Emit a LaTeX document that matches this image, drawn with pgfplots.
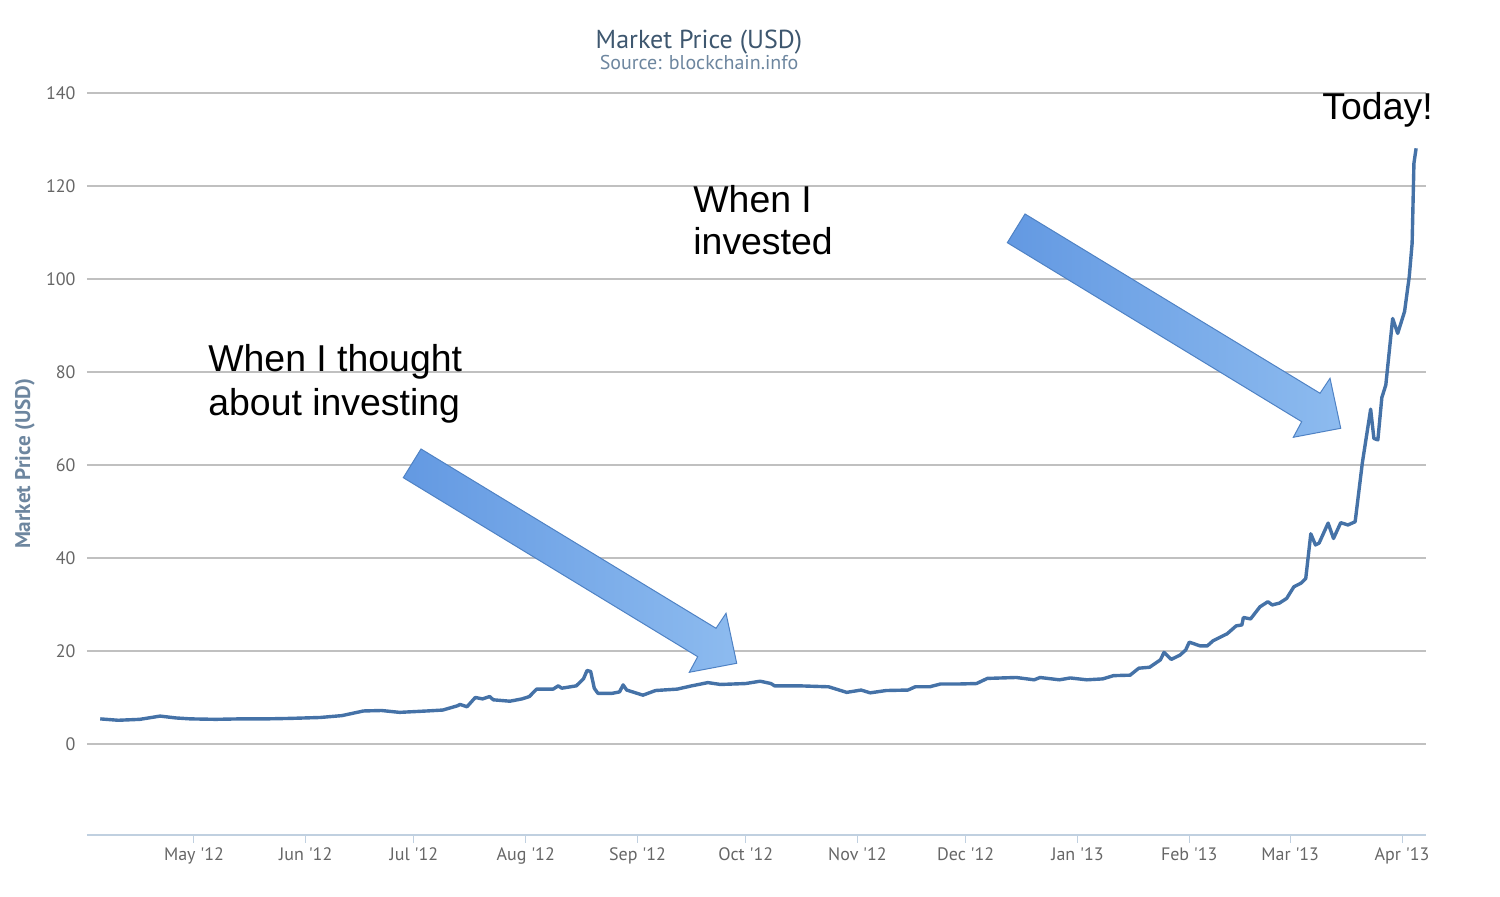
\documentclass[border=0pt]{standalone}
\usepackage{pgfplots}
\pgfplotsset{compat=1.18}
\usepackage{fontspec}
\setmainfont{Liberation Sans}
\newfontfamily\hc{PT Sans}
\newfontfamily\arial{Liberation Sans}

\definecolor{series}{HTML}{4572A7}
\definecolor{hctitle}{HTML}{3E576F}
\definecolor{hcsub}{HTML}{6D869F}
\definecolor{hclabel}{HTML}{666666}
\definecolor{hcgrid}{HTML}{C0C0C0}
\definecolor{hcaxis}{HTML}{C0D0E0}
\definecolor{arrowA}{HTML}{6399E2}
\definecolor{arrowB}{HTML}{8DBBEF}
\definecolor{arrowEdge}{HTML}{4F82C4}

% reference pixel -> axis coordinates (x: days since 1 May 2012, y: USD)
\newcommand{\pp}[2]{(axis cs:{(#1-194)/3.606},{(744-#2)/4.65})}

\begin{document}
\begin{tikzpicture}
\path[use as bounding box] (-43.5pt,-31pt) rectangle (706.5pt,417.5pt);
\begin{axis}[at={(0,0)},anchor=south west,
  scale only axis,width=669.5pt,height=371pt,
  xmin=-29.67,xmax=341.65,ymin=-19.57,ymax=140,
  clip=false,
  axis x line*=bottom,axis y line*=left,
  x axis line style={draw=hcaxis,line width=1pt},
  y axis line style={draw=none},
  xtick={0,31,61,92,123,153,184,214,245,276,304,335},
  xticklabels={May '12,Jun '12,Jul '12,Aug '12,Sep '12,Oct '12,Nov '12,Dec '12,Jan '13,Feb '13,Mar '13,Apr '13},
  ytick={0,20,40,60,80,100,120,140},
  tick align=outside,major tick length=4pt,
  xtick style={draw=hcaxis,line width=0.5pt},
  ytick style={draw=none},
  ymajorgrids,grid style={draw=hcgrid,line width=0.6pt},
  /pgf/number format/assume math mode=true,
  xticklabel style={font=\hc\fontsize{9}{10.8}\selectfont,text=hclabel,yshift=1.3pt},
  yticklabel style={font=\hc\fontsize{9}{10.8}\selectfont,text=hclabel,xshift=1.8pt},
  title={Market Price (USD)},
  title style={at={(rel axis cs:0.457,1.0606)},anchor=base,yshift=-6pt,
    font=\hc\fontsize{13}{15}\selectfont,text=hctitle,inner sep=0pt},
  ylabel={Market Price (USD)},
  every axis y label/.style={at={(rel axis cs:-0.0463,0.5)},rotate=90,anchor=center,
    font=\hc\bfseries\fontsize{10.6}{12}\selectfont,text=hcsub},
]
\addplot[series,line width=1.7pt,line join=round,mark=none] coordinates {
(-26,5.4) (-21,5.1) (-15,5.3) (-9.4,6.0) (-5,5.6) (-1,5.4) (6,5.3) (12.8,5.4)
(20,5.4) (26.6,5.5) (35,5.7) (41,6.1) (47,7.1) (52,7.2) (57,6.8) (64.6,7.1)
(69,7.3) (73,8.2) (73.8,8.5) (75.7,8.0) (78,10.0) (80,9.7) (82,10.2) (83,9.5)
(87.6,9.2) (91,9.7) (93,10.2) (95,11.8) (99.6,11.8) (101,12.5) (102,12.0)
(106,12.5) (108,14.0) (109,15.8) (110,15.6) (111,12.0) (112,10.9) (116,10.9)
(118,11.2) (119,12.7) (120,11.6) (124.5,10.5) (128,11.5) (134,11.8) (138,12.5)
(142.5,13.2) (146,12.8) (153,13.0) (157,13.5) (160,13.0) (161,12.5) (168,12.5)
(176,12.3) (181,11.1) (185,11.6) (187.5,11.0) (192,11.5) (198,11.6) (200,12.3)
(204,12.3) (207,12.9) (212,12.9) (217,13.0) (220,14.1) (228,14.3) (233,13.8)
(234.6,14.3) (240,13.8) (243,14.2) (247.6,13.8) (252,14.0) (255,14.7)
(259.6,14.8) (262,16.3) (265,16.5) (268,18.1) (269,19.7) (271,18.2) (273.4,19.1)
(275,20.2) (276,21.9) (279,21.1) (281,21.1) (282.6,22.2) (286.5,23.7) (289,25.4)
(290.6,25.6) (291,27.2) (293,26.9) (295.6,29.5) (297.8,30.6) (299,29.9)
(301,30.3) (303,31.3) (305,33.8) (307,34.6) (308.3,35.6) (309.7,45.2) (311,42.8)
(312,43.2) (314.5,47.5) (316,44.2) (318,47.6) (320,47.1) (322,47.8) (324,60.5)
(326.3,72.0) (327.2,65.7) (328.3,65.4) (329.4,74.5) (330.5,77.2) (332.4,91.5)
(333.8,88.3) (335.7,93.0) (337,100.5) (337.8,107.7) (338.3,124.9) (338.9,128.1)
};
% subtitle
\path \pp{699}{70} node[anchor=base,inner sep=0pt,font=\hc\fontsize{10}{12}\selectfont,text=hcsub] {Source: blockchain.info};
% arrows
\draw[arrowEdge,line width=0.5pt,left color=arrowA,right color=arrowB]
  \pp{421}{449} -- \pp{716}{628.3} -- \pp{726}{613.3} -- \pp{736.7}{663.3}
  -- \pp{689.3}{672.3} -- \pp{697.7}{656.7} -- \pp{403.3}{477.7} -- cycle;
\draw[arrowEdge,line width=0.5pt,left color=arrowA,right color=arrowB]
  \pp{1025}{214} -- \pp{1320}{393.3} -- \pp{1330}{378.3} -- \pp{1340.7}{428.3}
  -- \pp{1293.3}{437.3} -- \pp{1301.7}{421.7} -- \pp{1007.3}{242.7} -- cycle;
% annotations
\path \pp{208}{372} node[anchor=base west,inner sep=0pt,font=\arial\fontsize{18.7}{22}\selectfont] {When I thought};
\path \pp{208}{416} node[anchor=base west,inner sep=0pt,font=\arial\fontsize{18.7}{22}\selectfont] {about investing};
\path \pp{693}{213} node[anchor=base west,inner sep=0pt,font=\arial\fontsize{18.7}{22}\selectfont] {When I};
\path \pp{693}{255} node[anchor=base west,inner sep=0pt,font=\arial\fontsize{18.7}{22}\selectfont] {invested};
\path \pp{1322}{120} node[anchor=base west,inner sep=0pt,font=\arial\fontsize{18.7}{22}\selectfont] {Today!};
\end{axis}
\end{tikzpicture}
\end{document}
